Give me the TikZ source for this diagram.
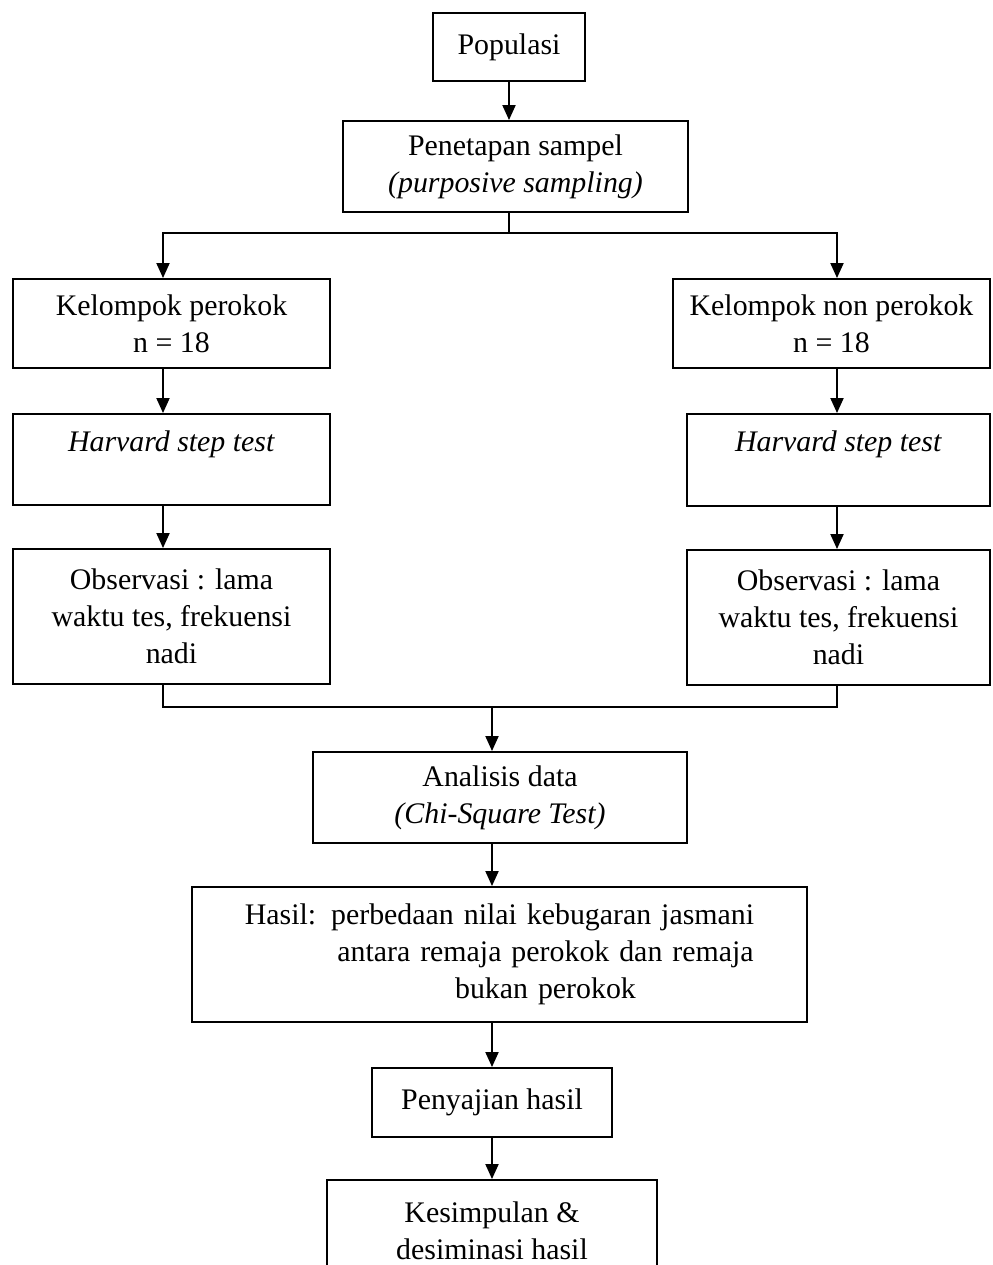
\documentclass[tikz,border=0pt]{standalone}
\usepackage{fontspec}
\setmainfont{Liberation Serif}
\usepackage{tikz}
\usetikzlibrary{arrows.meta}

\begin{document}
\begin{tikzpicture}[x=0.02cm, y=-0.02cm, line width=1.1pt,
    >={Triangle[length=3mm,width=2.6mm]},
    box/.style={rectangle, draw, align=center, inner sep=2pt,
        font=\fontsize{17}{21}\selectfont}]
                    \useasboundingbox (0,0) rectangle (993,1265);

                    % Nodes
                    \node[box, minimum width=3.04cm, minimum height=1.36cm] (pop) at (509,47) {Populasi};
                    \node[box, minimum width=6.9cm, minimum height=1.82cm] (sampel) at (515.5,166.5) {Penetapan sampel\\\textit{(purposive sampling)}};

                    \node[box, minimum width=6.34cm, minimum height=1.78cm] (kel1) at (171.5,323.5) {Kelompok perokok\\n = 18};
                    \node[box, minimum width=6.34cm, minimum height=1.82cm] (hst1) at (171.5,459.5) {\textit{Harvard step test}\\\mbox{}};
                    \node[box, minimum width=6.34cm, minimum height=2.7cm] (obs1) at (171.5,616.5) {Observasi : lama\\waktu tes, frekuensi\\nadi};

                    \node[box, minimum width=6.34cm, minimum height=1.78cm] (kel2) at (831.5,323.5) {Kelompok non perokok\\n = 18};
                    \node[box, minimum width=6.06cm, minimum height=1.84cm] (hst2) at (838.5,460) {\textit{Harvard step test}\\\mbox{}};
                    \node[box, minimum width=6.06cm, minimum height=2.7cm] (obs2) at (838.5,617.5) {Observasi : lama\\waktu tes, frekuensi\\nadi};

                    \node[box, minimum width=7.48cm, minimum height=1.82cm] (ana) at (500,797.5) {Analisis data\\\textit{(Chi-Square Test)}};
                    \node[box, minimum width=12.3cm, minimum height=2.7cm, text width=11cm] (hasil) at (499.5,954.5) {Hasil: perbedaan nilai kebugaran jasmani\\\hspace*{1.84cm}antara remaja perokok dan remaja\\\hspace*{1.84cm}bukan perokok};
                    \node[box, minimum width=4.8cm, minimum height=1.38cm] (saji) at (492,1102.5) {Penyajian hasil};
                    \node[box, minimum width=6.6cm, minimum height=2.04cm] (simpul) at (492,1231) {Kesimpulan \&\\desiminasi hasil};

                    % Branch and merge points
                    \coordinate (colL) at (163,0);
                    \coordinate (colR) at (837,0);
                    \coordinate (split) at (509,233);
                    \coordinate (merge) at (492,707);

                    % Arrows
                    \draw[->] (pop.south) -- (pop.south |- sampel.north);
                    \draw (pop.south |- sampel.south) -- (split);
                    \draw[->] (split) -| (colL |- kel1.north);
                    \draw[->] (split) -| (colR |- kel2.north);

                    % left column
                    \draw[->] (colL |- kel1.south) -- (colL |- hst1.north);
                    \draw[->] (colL |- hst1.south) -- (colL |- obs1.north);
                    % right column
                    \draw[->] (colR |- kel2.south) -- (colR |- hst2.north);
                    \draw[->] (colR |- hst2.south) -- (colR |- obs2.north);

                    % both groups into analysis
                    \draw (colL |- obs1.south) |- (merge) -| (colR |- obs2.south);
                    \draw[->] (merge) -- (merge |- ana.north);
                    \draw[->] (merge |- ana.south) -- (merge |- hasil.north);
                    \draw[->] (merge |- hasil.south) -- (merge |- saji.north);
                    \draw[->] (saji.south) -- (simpul.north);
                \end{tikzpicture}
\end{document}
